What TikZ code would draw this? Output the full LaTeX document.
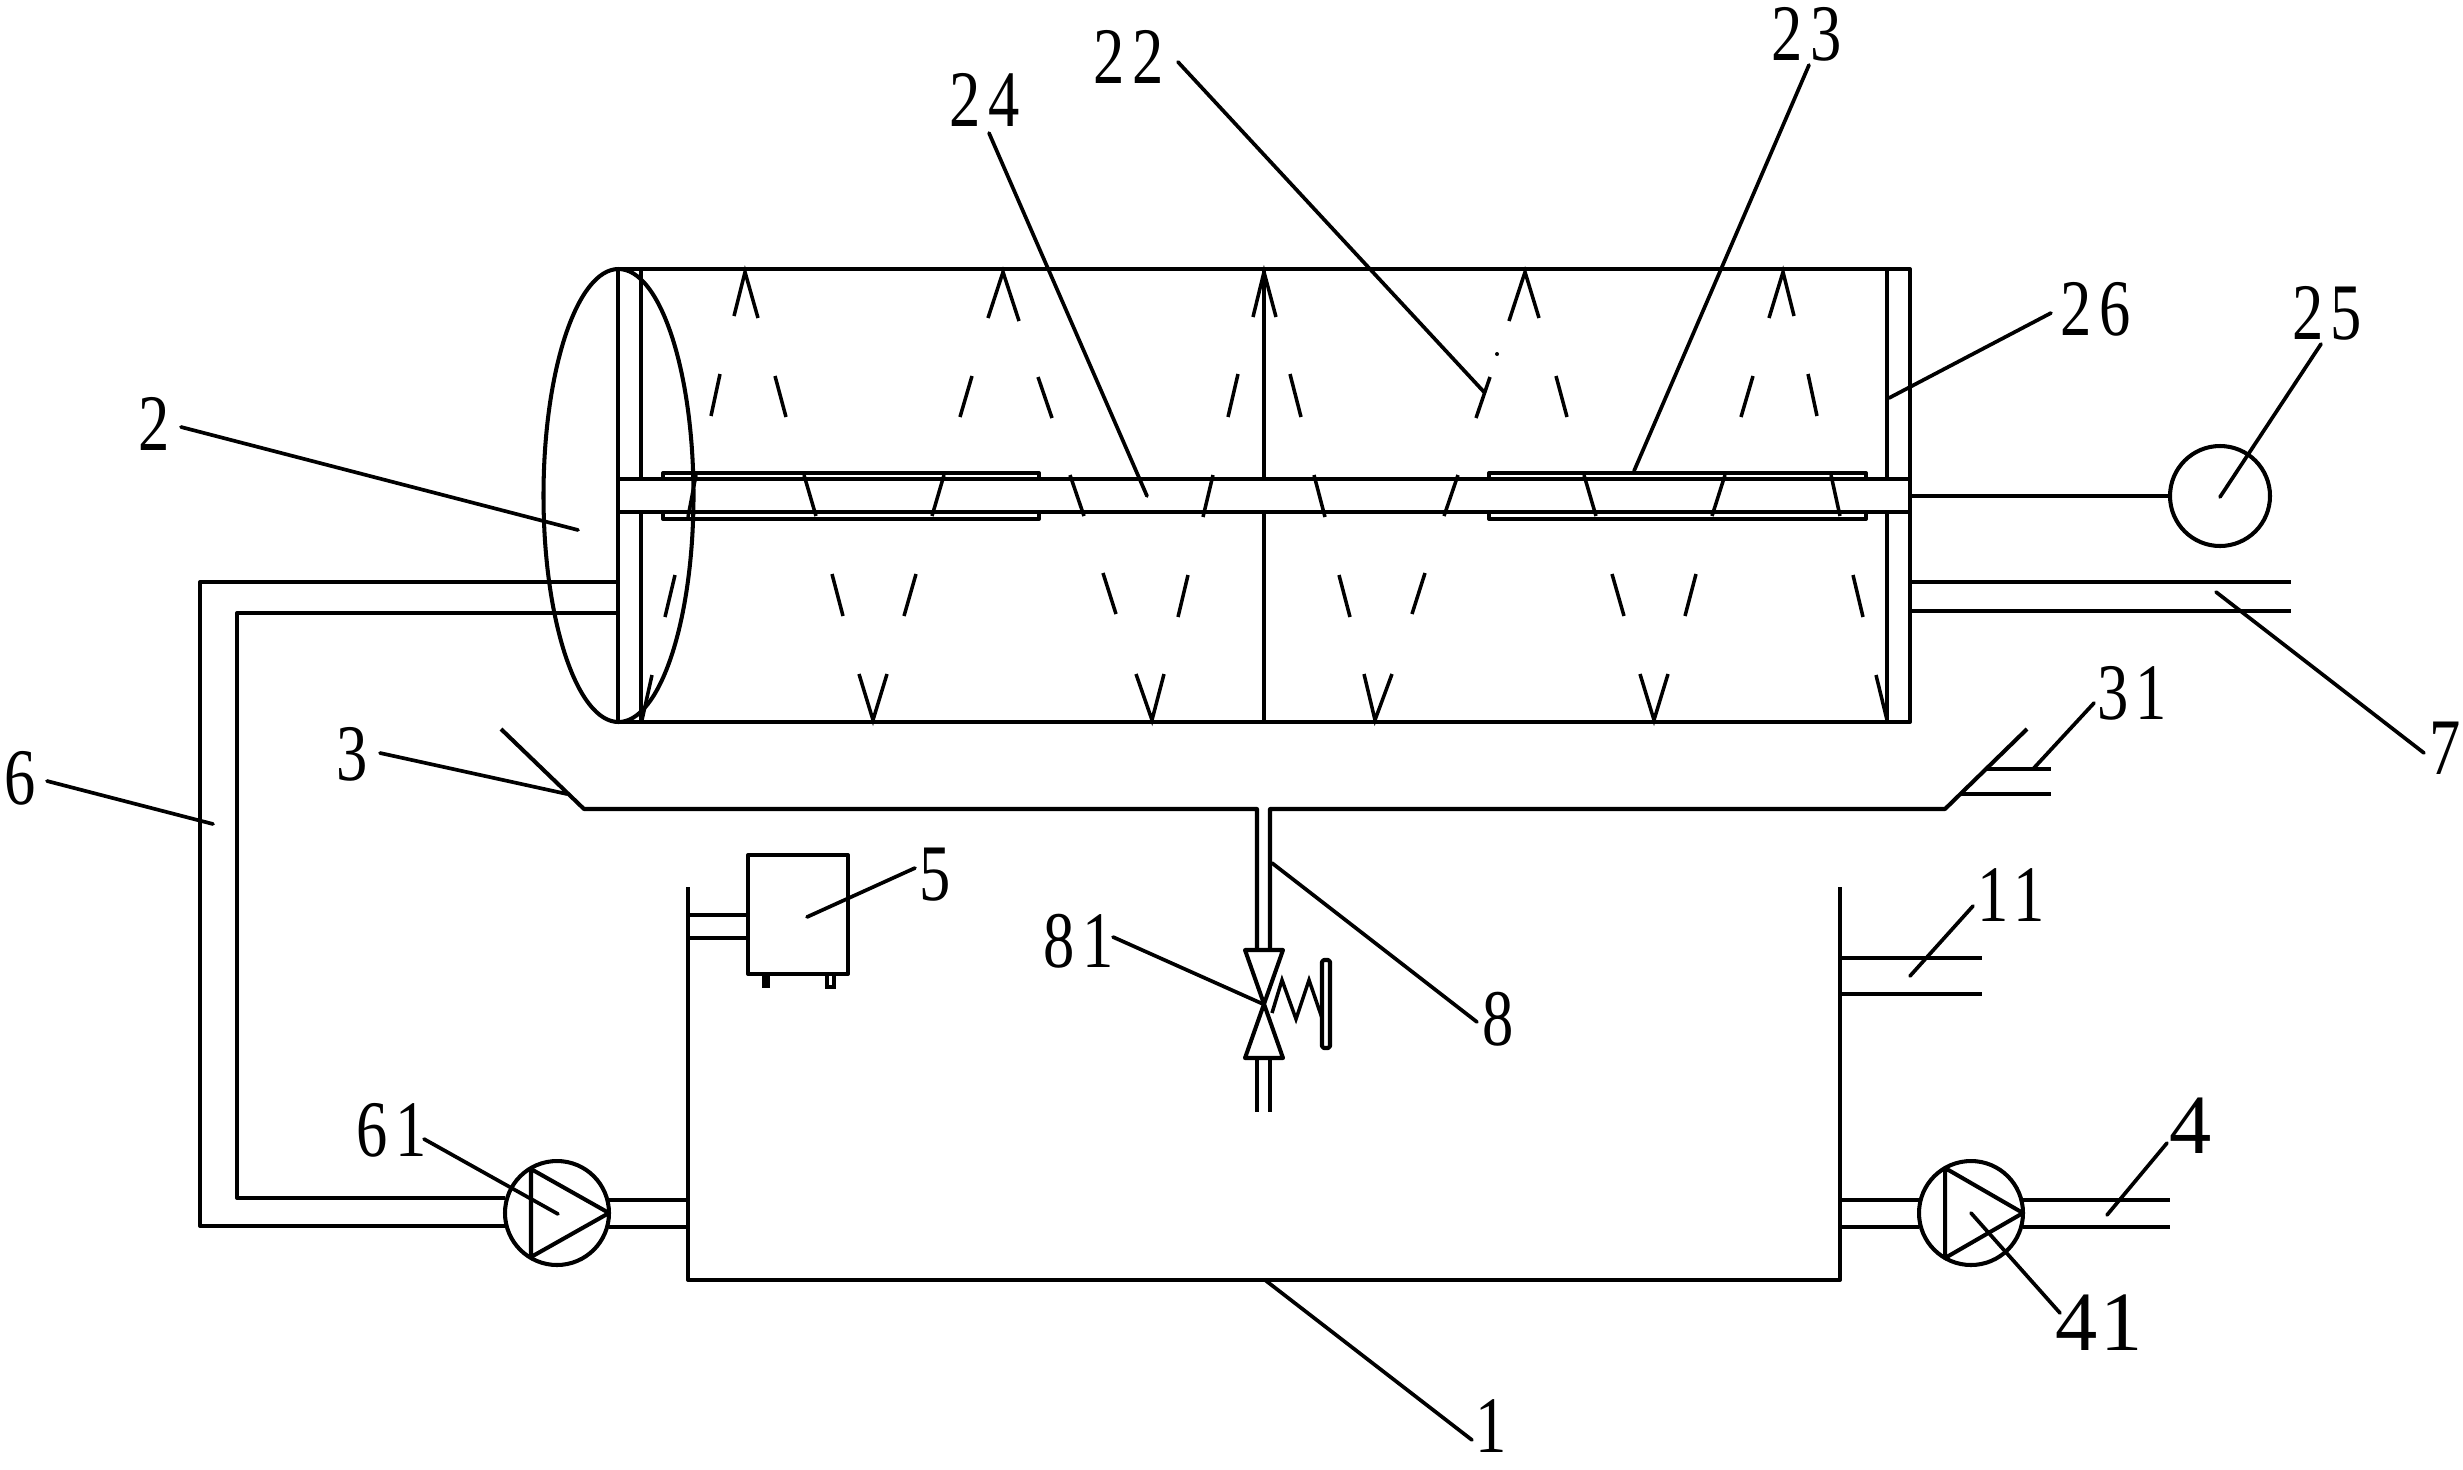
\documentclass[tikz,border=0pt]{standalone}
\usepackage{fontspec}
\setmainfont{Liberation Serif}
\newfontfamily\labfont[LetterSpace=12]{Liberation Serif}
\newfontfamily\labbigfont[LetterSpace=4]{Liberation Serif}
\tikzset{
    part/.style={line width=1.15pt, line join=round},
    spray/.style={line width=1pt},
    leader/.style={line width=1.05pt, line cap=round},
    lab/.style={inner sep=0pt, font=\labfont\fontsize{22.8}{23}\selectfont, xscale=0.78},
    labbig/.style={inner sep=0pt, font=\labbigfont\fontsize{24}{24}\selectfont},
}
\begin{document}
\begin{tikzpicture}[x=0.01cm, y=-0.01cm]
        \useasboundingbox (0, 0) rectangle (2463, 1469);

        % Drum
        \draw[part] (618.5, 495.5) ellipse [x radius=75, y radius=226.5];
        \draw[part] (618, 269) -- (1910, 269) -- (1910, 722) -- (618, 722) -- cycle;
        \draw[part] (641, 269) -- (641, 479);
        \draw[part] (641, 512) -- (641, 722);
        \draw[part] (1887, 269) -- (1887, 479);
        \draw[part] (1887, 512) -- (1887, 722);
        \draw[part] (1264, 269) -- (1264, 479);
        \draw[part] (1264, 512) -- (1264, 722);

        % Shaft and sleeves
        \draw[part] (618, 479) -- (1910, 479);
        \draw[part] (618, 512) -- (1910, 512);
        \draw[part] (663, 479) -- (663, 473) -- (1039, 473) -- (1039, 479);
        \draw[part] (663, 512) -- (663, 519) -- (1039, 519) -- (1039, 512);
        \draw[part] (1489, 479) -- (1489, 473) -- (1866, 473) -- (1866, 479);
        \draw[part] (1489, 512) -- (1489, 519) -- (1866, 519) -- (1866, 512);

        % Nozzles on top
        \foreach \xa/\ya/\xt/\xb/\yb in {734/316/745/758/318, 988/318/1003/1019/321,
            1253/317/1264/1276/317, 1509/321/1525/1539/318, 1769/318/1783/1794/316}
            \draw[spray] (\xa, \ya) -- (\xt, 272) -- (\xb, \yb);

        % Nozzles on bottom
        \foreach \xa/\xt/\xb in {859/873/887, 1136/1152/1164, 1364/1375/1392, 1640/1654/1668}
            \draw[spray] (\xa, 674) -- (\xt, 720) -- (\xb, 674);
        \draw[spray] (652, 675) -- (642, 720);
        \draw[spray] (1876, 675) -- (1887, 720);

        % Short strokes
        \foreach \xa/\ya/\xb/\yb in {720/374/711/416, 775/376/786/417, 972/376/960/417,
            1038/377/1052/418, 1238/374/1228/417, 1290/374/1301/417, 1490/377/1476/418,
            1556/376/1567/417, 1753/376/1741/417, 1808/374/1817/416,
            696/475/688/517, 804/475/816/516, 944/475/932/516, 1070/475/1084/516,
            1213/475/1203/517, 1314/475/1325/517, 1458/475/1444/516, 1584/475/1596/516,
            1725/475/1712/516, 1831/475/1840/516,
            675/575/665/617, 832/574/843/616, 916/574/904/616, 1103/573/1116/614,
            1188/575/1178/617, 1339/575/1350/617, 1425/573/1412/614, 1612/574/1624/616,
            1696/574/1685/616, 1853/575/1863/617}
            \draw[spray] (\xa, \ya) -- (\xb, \yb);
        \fill[black] (1497, 354) circle (2);

        % Motor and outlet
        \coordinate (motor) at (2220, 496);
        \draw[part] (motor) circle (50);
        \draw[part] (1910, 496) -- (2170, 496);
        \draw[part] (1910, 582) -- (2291, 582);
        \draw[part] (1910, 611) -- (2291, 611);

        % Trough
        \draw[part] (501, 729) -- (584, 809) -- (1257, 809) -- (1257, 948);
        \draw[part] (2027, 729) -- (1945, 809) -- (1270, 809) -- (1270, 948);
        \draw[part] (1985, 769) -- (2051, 769);
        \draw[part] (1960, 794) -- (2051, 794);

        % Valve
        \draw[part] (1245, 950) -- (1283, 950) -- (1245, 1058) -- (1283, 1058) -- cycle;
        \draw[part] (1257, 1058) -- (1257, 1112);
        \draw[part] (1270, 1058) -- (1270, 1112);
        \draw[spray] (1272, 1013) -- (1282, 980) -- (1296, 1019) -- (1309, 980) -- (1322, 1018);
        \draw[part, rounded corners=0.5pt] (1322, 960) rectangle (1330, 1048);

        % Tank
        \draw[part] (688, 887) -- (688, 1280) -- (1840, 1280) -- (1840, 887);
        \draw[part] (1840, 958) -- (1982, 958);
        \draw[part] (1840, 994) -- (1982, 994);

        % Heater
        \draw[part] (748, 855) rectangle (848, 974);
        \draw[part] (688, 915) -- (748, 915);
        \draw[part] (688, 938) -- (748, 938);
        \fill[black] (762, 974) rectangle (770, 988);
        \draw[spray] (827, 974) -- (827, 987) -- (834, 987) -- (834, 974);

        % Pump on the left and pipe
        \coordinate (pumpl) at (557, 1213);
        \draw[part] (pumpl) circle (52);
        \draw[part] (531, 1169) -- (531, 1257) -- (609, 1213) -- cycle;
        \draw[part] (609, 1200) -- (688, 1200);
        \draw[part] (609, 1227) -- (688, 1227);
        \draw[part] (618, 582) -- (200, 582) -- (200, 1226) -- (505, 1226);
        \draw[part] (618, 613) -- (237, 613) -- (237, 1198) -- (505, 1198);

        % Pump on the right and pipe
        \coordinate (pumpr) at (1971, 1213);
        \draw[part] (pumpr) circle (52);
        \draw[part] (1945, 1168) -- (1945, 1258) -- (2023, 1213) -- cycle;
        \draw[part] (1840, 1200) -- (1919, 1200);
        \draw[part] (1840, 1227) -- (1919, 1227);
        \draw[part] (2023, 1200) -- (2170, 1200);
        \draw[part] (2023, 1227) -- (2170, 1227);

        % Labels
        \node[lab] (l1) at (1491, 1426) {1};
        \node[lab] (l2) at (154, 424) {2};
        \node[lab] (l3) at (352, 754) {3};
        \node[labbig] (l4) at (2191, 1126) {4};
        \node[lab] (l5) at (935, 875) {5};
        \node[lab] (l6) at (20, 778) {6};
        \node[lab] (l7) at (2445, 748) {7};
        \node[lab] (l8) at (1498, 1019) {8};
        \node[lab] (l11) at (2011, 895) {11};
        \node[lab] (l22) at (1129, 57) {22};
        \node[lab] (l23) at (1807, 34) {23};
        \node[lab] (l24) at (985, 100) {24};
        \node[lab] (l25) at (2327, 313) {25};
        \node[lab] (l26) at (2096, 309) {26};
        \node[lab] (l31) at (2132, 693) {31};
        \node[labbig] (l41) at (2099, 1323) {41};
        \node[lab] (l61) at (392, 1130) {61};
        \node[lab] (l81) at (1079, 941) {81};

        % Leaders
        \coordinate (e1) at (1265, 1280);
        \coordinate (e2) at (578, 530);
        \coordinate (e3) at (567, 794);
        \coordinate (e4) at (2107, 1215);
        \coordinate (e5) at (807, 917);
        \coordinate (e6) at (213, 824);
        \coordinate (e7) at (2216, 592);
        \coordinate (e8) at (1272, 863);
        \coordinate (e11) at (1910, 976);
        \coordinate (e22) at (1484, 392);
        \coordinate (e23) at (1634, 471);
        \coordinate (e24) at (1147, 496);
        \coordinate (e25) at (2220, 497);
        \coordinate (e26) at (1889, 398);
        \coordinate (e31) at (2033, 769);
        \coordinate (e41) at (1971, 1213);
        \coordinate (e61) at (558, 1214);
        \coordinate (e81) at (1263, 1004);
        \foreach \n/\dx/\dy in {1/-19/14, 2/27/3, 3/28/-1, 4/-24/17, 5/-20/-7, 6/27/3, 7/-21/5,
            8/-21/3, 11/-38/11, 22/49/5, 23/2/31, 24/4/33, 25/-6/31, 26/-45/4, 31/-38/10,
            41/-39/-10, 61/32/9, 81/34/-4}
            \draw[leader] (l\n) ++(\dx, \dy) -- (e\n);

    \end{tikzpicture}
\end{document}
